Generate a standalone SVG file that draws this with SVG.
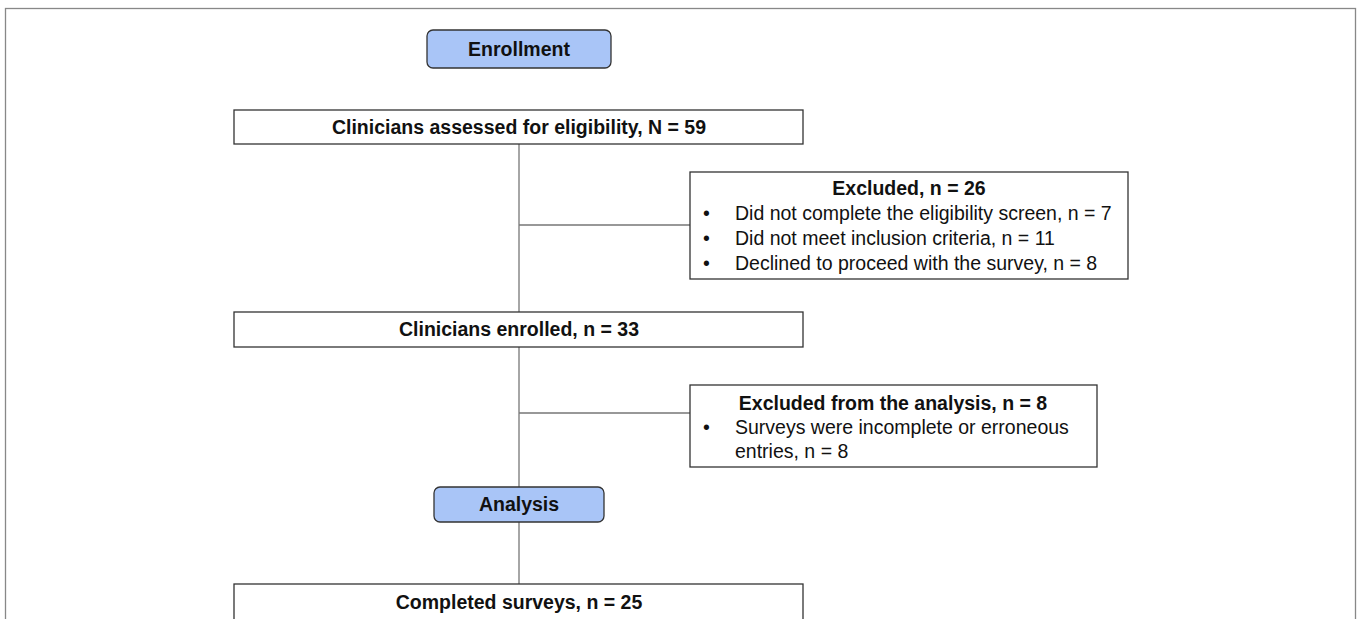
<svg xmlns="http://www.w3.org/2000/svg" width="1357" height="619" viewBox="0 0 1357 619">
<style>
.box{fill:#fff;stroke:#333;stroke-width:1.3}
.phase{fill:#a9c5f7;stroke:#333;stroke-width:1.3}
.t{font-family:"Liberation Sans",Arial,sans-serif;font-size:19.5px;fill:#111}
.b{font-weight:bold;text-anchor:middle}
.ln{stroke:#777;stroke-width:1.3;fill:none}
</style>
<rect x="5.5" y="8.5" width="1350" height="620" fill="#fff" stroke="#888" stroke-width="1.3"/>
<g id="connectors">
<path class="ln" d="M519 144V312M519 225H690M519 347V487M519 413H690M519 522V584"/>
</g>
<g id="enrollment">
<rect class="phase" x="427" y="30" width="184" height="38" rx="6"/>
<text class="t b" x="519" y="56">Enrollment</text>
</g>
<g id="assessed">
<rect class="box" x="234" y="110" width="569" height="34"/>
<text class="t b" x="519" y="134">Clinicians assessed for eligibility, N = 59</text>
</g>
<g id="excluded1">
<rect class="box" x="690" y="172" width="438" height="107"/>
<text class="t b" x="909" y="195">Excluded, n = 26</text>
<text class="t" x="703" y="220">•</text>
<text class="t" x="735" y="220">Did not complete the eligibility screen, n = 7</text>
<text class="t" x="703" y="245">•</text>
<text class="t" x="735" y="245">Did not meet inclusion criteria, n = 11</text>
<text class="t" x="703" y="270">•</text>
<text class="t" x="735" y="270">Declined to proceed with the survey, n = 8</text>
</g>
<g id="enrolled">
<rect class="box" x="234" y="312" width="569" height="35"/>
<text class="t b" x="519" y="336">Clinicians enrolled, n = 33</text>
</g>
<g id="excluded2">
<rect class="box" x="690" y="385" width="407" height="82"/>
<text class="t b" x="893" y="410">Excluded from the analysis, n = 8</text>
<text class="t" x="703" y="434">•</text>
<text class="t" x="735" y="434">Surveys were incomplete or erroneous</text>
<text class="t" x="735" y="458">entries, n = 8</text>
</g>
<g id="analysis">
<rect class="phase" x="434" y="487" width="170" height="35" rx="6"/>
<text class="t b" x="519" y="511">Analysis</text>
</g>
<g id="completed">
<rect class="box" x="234" y="584" width="569" height="45"/>
<text class="t b" x="519" y="609">Completed surveys, n = 25</text>
</g>
</svg>
